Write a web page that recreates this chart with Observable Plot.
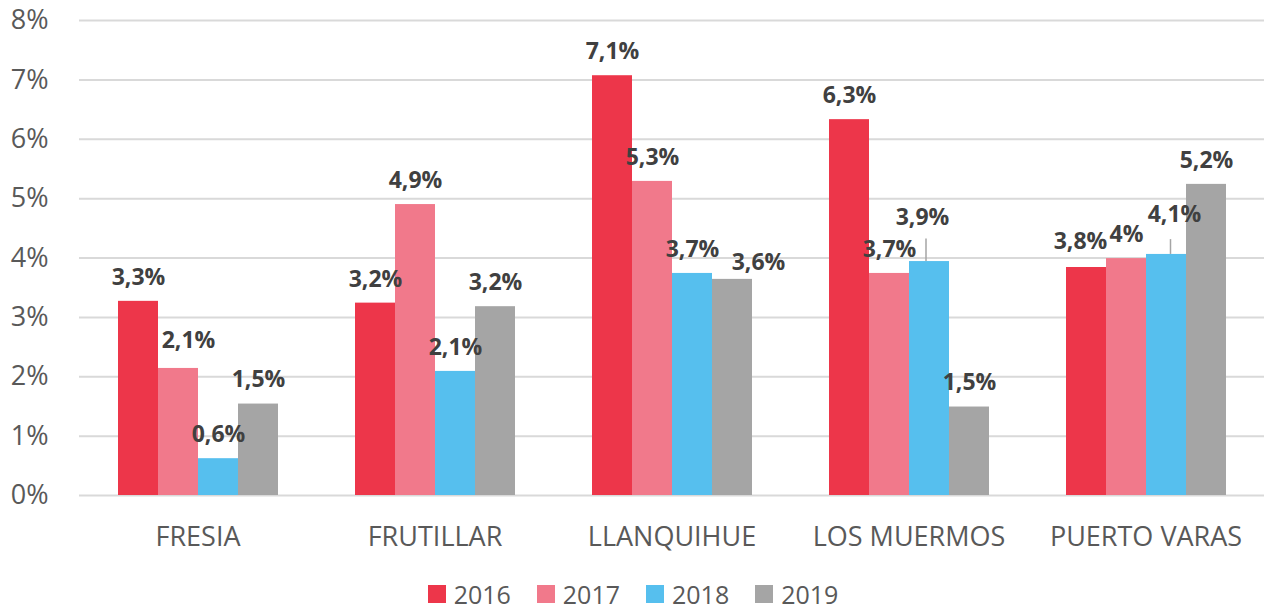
<!DOCTYPE html>
<html>
<head>
<meta charset="utf-8">
<script src="https://cdn.jsdelivr.net/npm/d3@7"></script>
<script src="https://cdn.jsdelivr.net/npm/@observablehq/plot@0.6"></script>
<style>
  html, body { margin: 0; padding: 0; background: #fff; overflow: hidden; }
  #chart { width: 1266px; }
  .lg-swatches { justify-content: center; font-family: "Open Sans", sans-serif !important; font-size: 25px !important; line-height: 26px !important; min-height: 26px !important; color: #595959 !important; margin-top: 16px; margin-bottom: 0 !important; padding-left: 26px; }
  .lg-swatch { margin-right: 26px !important; }
  .lg-swatch > svg { margin-right: 8px !important; }
</style>
</head>
<body>
<div id="chart"></div>
<script>
const categories = ["FRESIA", "FRUTILLAR", "LLANQUIHUE", "LOS MUERMOS", "PUERTO VARAS"];
const years = ["2016", "2017", "2018", "2019"];
const values2016 = [3.27, 3.24, 7.07, 6.33, 3.84];
const values2017 = [2.14, 4.90, 5.29, 3.74, 3.99];
const values2018 = [0.62, 2.09, 3.74, 3.94, 4.06];
const values2019 = [1.54, 3.18, 3.64, 1.49, 5.24];
const yTicks = [0, 1, 2, 3, 4, 5, 6, 7, 8];
const colors = ["#ED364A", "#F1798B", "#56BFEE", "#A5A5A5"];

// Excel-style manual label placement: [category, year, dx, dy, leader length in % units]
const labelNudges = [
  ["FRESIA", "2017", 10, -28, 0],
  ["LLANQUIHUE", "2019", 26, -17, 0],
  ["LOS MUERMOS", "2018", -7, -44, 0.38],
  ["PUERTO VARAS", "2016", -6, -26, 0],
  ["PUERTO VARAS", "2018", 8, -40, 0.25]
];

const series = [values2016, values2017, values2018, values2019];
const data = [];
categories.forEach((c, i) => {
  years.forEach((y, j) => data.push({category: c, year: y, value: series[j][i]}));
});
const nudgeOf = d => labelNudges.find(([c, y]) => c === d.category && y === d.year);
const fmt = v => {
  const s = d3.format(".1f")(v);
  return (s.endsWith(".0") ? s.slice(0, -2) : s).replace(".", ",") + "%";
};
const labelStyle = {fill: "#404040", fontWeight: "bold", fontSize: 23};

const marks = [
  Plot.gridY(yTicks, {stroke: "#D9D9D9", strokeOpacity: 1, strokeWidth: 2}),
  Plot.barY(data, {fx: "category", x: "year", y: "value", fill: "year"}),
  Plot.text(data.filter(d => !nudgeOf(d)), {
    fx: "category", x: "year", y: "value", text: d => fmt(d.value), dy: -24, ...labelStyle
  })
];
for (const [c, y, dx, dy, leader] of labelNudges) {
  const rows = data.filter(d => d.category === c && d.year === y);
  if (leader > 0) {
    marks.push(Plot.ruleX(rows, {fx: "category", x: "year", y1: "value", y2: d => d.value + leader,
      dx: dx / 2, stroke: "#A5A5A5", strokeWidth: 1.5}));
  }
  marks.push(Plot.text(rows, {fx: "category", x: "year", y: "value", text: d => fmt(d.value), dx, dy, ...labelStyle}));
}

const chart = Plot.plot({
  width: 1266,
  height: 565,
  marginTop: 20,
  marginBottom: 70,
  marginLeft: 77,
  marginRight: 0,
  style: {fontFamily: "'Open Sans', sans-serif", fontSize: "27px", color: "#595959", background: "#fff"},
  fx: {domain: categories, padding: 0, label: null, tickSize: 0, tickPadding: 31},
  x: {domain: years, paddingInner: 0, paddingOuter: 0.96, axis: null},
  y: {domain: [0, 8], ticks: yTicks, tickFormat: d => d + "%", tickSize: 0, tickPadding: 31, label: null},
  color: {domain: years, range: colors},
  marks
});
document.getElementById("chart").append(chart);

const legend = Plot.legend({
  color: {domain: years, range: colors},
  swatchSize: 18,
  className: "lg"
});
document.getElementById("chart").append(legend);
</script>
</body>
</html>
